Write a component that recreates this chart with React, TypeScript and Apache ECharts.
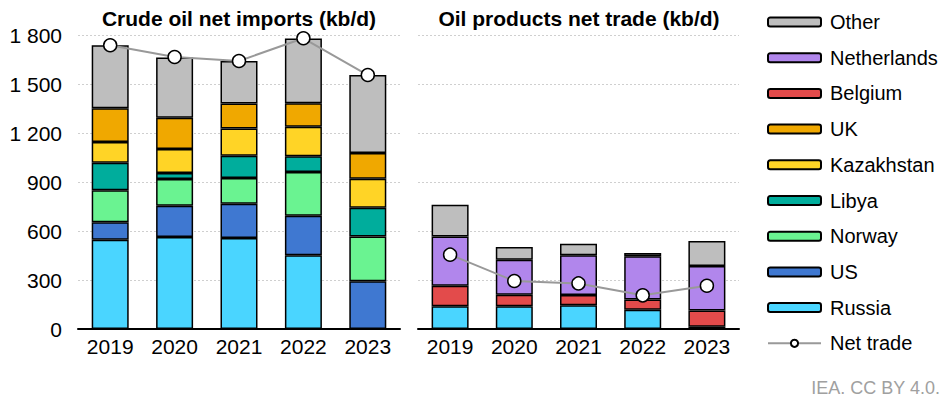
import React, { useEffect, useRef } from "react";
import * as echarts from "echarts";

const years = ["2019", "2020", "2021", "2022", "2023"];

// Crude oil net imports (kb/d)
const crudeRussia = [547, 563, 557, 451, 0];
const crudeUS = [106, 192, 210, 243, 292];
const crudeNorway = [196, 163, 158, 267, 275];
const crudeLibya = [169, 37, 136, 96, 176];
const crudeKazakhstan = [127, 147, 166, 182, 177];
const crudeUK = [206, 192, 153, 143, 158];
const crudeOther = [386, 369, 261, 396, 477];
const crudeNet = [1737, 1665, 1641, 1780, 1555];

// Oil products net trade (kb/d)
const prodRussia = [139, 139, 145, 118, 14];
const prodBelgium = [126, 71, 63, 63, 100];
const prodNetherlands = [302, 214, 243, 264, 272];
const prodOther = [194, 78, 71, 20, 153];
const prodNet = [455, 294, 279, 206, 265];

const legendOrder = [
  "Other",
  "Netherlands",
  "Belgium",
  "UK",
  "Kazakhstan",
  "Libya",
  "Norway",
  "US",
  "Russia",
  "Net trade",
];

const colors: Record<string, string> = {
  Other: "#BEBEBE",
  Netherlands: "#B186EC",
  Belgium: "#E34B4B",
  UK: "#F0A800",
  Kazakhstan: "#FFD426",
  Libya: "#00AD9C",
  Norway: "#6AF391",
  US: "#3F78D1",
  Russia: "#4AD5FF",
};

const FONT = "Arial, 'Liberation Sans', sans-serif";

export default function App() {
  const ref = useRef<HTMLDivElement>(null);

  useEffect(() => {
    if (!ref.current) return;
    const chart = echarts.init(ref.current, undefined, { renderer: "svg" });

    const bar = (name: string, data: number[], idx: number, stack: string) => ({
      name,
      type: "bar",
      stack,
      xAxisIndex: idx,
      yAxisIndex: idx,
      data,
      barWidth: 37,
      itemStyle: {
        color: colors[name],
        borderColor: "#000",
        borderWidth: 1.5,
      },
      emphasis: { disabled: true },
    });

    const line = (data: number[], idx: number) => ({
      name: "Net trade",
      type: "line",
      xAxisIndex: idx,
      yAxisIndex: idx,
      data,
      z: 5,
      symbol: "circle",
      symbolSize: 13,
      lineStyle: { color: "#999", width: 2 },
      itemStyle: { color: "#fff", borderColor: "#000", borderWidth: 1.5 },
      emphasis: { disabled: true },
    });

    const xAxisBase = (gridIndex: number) => ({
      type: "category",
      gridIndex,
      data: years,
      axisLine: { show: true, lineStyle: { color: "#000", width: 2 } },
      axisTick: { show: false },
      axisLabel: { color: "#000", fontSize: 21, fontFamily: FONT, margin: 7 },
    });

    const yAxisBase = (gridIndex: number, showLabel: boolean) => ({
      type: "value",
      gridIndex,
      min: 0,
      max: 1800,
      interval: 300,
      axisLine: { show: false },
      axisTick: { show: false },
      axisLabel: {
        show: showLabel,
        color: "#000",
        fontSize: 21,
        fontFamily: FONT,
        margin: 16,
        formatter: (v: number) =>
          String(v).replace(/\B(?=(\d{3})+(?!\d))/g, " "),
      },
      splitLine: {
        show: true,
        lineStyle: { color: "#cfcfcf", type: [2, 2], width: 1 },
      },
    });

    chart.setOption({
      animation: false,
      textStyle: { fontFamily: FONT },
      grid: [
        { left: 78, top: 35, width: 322, height: 294 },
        { left: 418, top: 35, width: 321, height: 294 },
      ],
      xAxis: [xAxisBase(0), xAxisBase(1)],
      yAxis: [yAxisBase(0, true), yAxisBase(1, false)],
      legend: {
        orient: "vertical",
        left: 767,
        top: 11.5,
        padding: 0,
        itemWidth: 53,
        itemHeight: 9,
        itemGap: 14.7,
        data: legendOrder,
        selectedMode: false,
        textStyle: {
          color: "#000",
          fontSize: 20,
          lineHeight: 21,
          fontFamily: FONT,
          padding: [0, 0, 0, 4],
        },
      },
      graphic: [
        {
          type: "text",
          x: 239,
          y: 18,
          style: {
            text: "Crude oil net imports (kb/d)",
            fontSize: 21,
            fontWeight: "bold",
            fontFamily: FONT,
            fill: "#000",
            textAlign: "center",
            textVerticalAlign: "middle",
          },
        },
        {
          type: "text",
          x: 579,
          y: 18,
          style: {
            text: "Oil products net trade (kb/d)",
            fontSize: 21,
            fontWeight: "bold",
            fontFamily: FONT,
            fill: "#000",
            textAlign: "center",
            textVerticalAlign: "middle",
          },
        },
        {
          type: "text",
          x: 940,
          y: 388,
          style: {
            text: "IEA. CC BY 4.0.",
            fontSize: 18,
            fontFamily: FONT,
            fill: "#a0a0a0",
            textAlign: "right",
            textVerticalAlign: "middle",
          },
        },
      ],
      series: [
        bar("Russia", crudeRussia, 0, "crude"),
        bar("US", crudeUS, 0, "crude"),
        bar("Norway", crudeNorway, 0, "crude"),
        bar("Libya", crudeLibya, 0, "crude"),
        bar("Kazakhstan", crudeKazakhstan, 0, "crude"),
        bar("UK", crudeUK, 0, "crude"),
        bar("Other", crudeOther, 0, "crude"),
        line(crudeNet, 0),
        bar("Russia", prodRussia, 1, "prod"),
        bar("Belgium", prodBelgium, 1, "prod"),
        bar("Netherlands", prodNetherlands, 1, "prod"),
        bar("Other", prodOther, 1, "prod"),
        line(prodNet, 1),
      ],
    });

    return () => chart.dispose();
  }, []);

  return (
    <div
      ref={ref}
      style={{ position: "fixed", left: 0, top: 0, width: 946, height: 401, background: "#fff" }}
    />
  );
}
